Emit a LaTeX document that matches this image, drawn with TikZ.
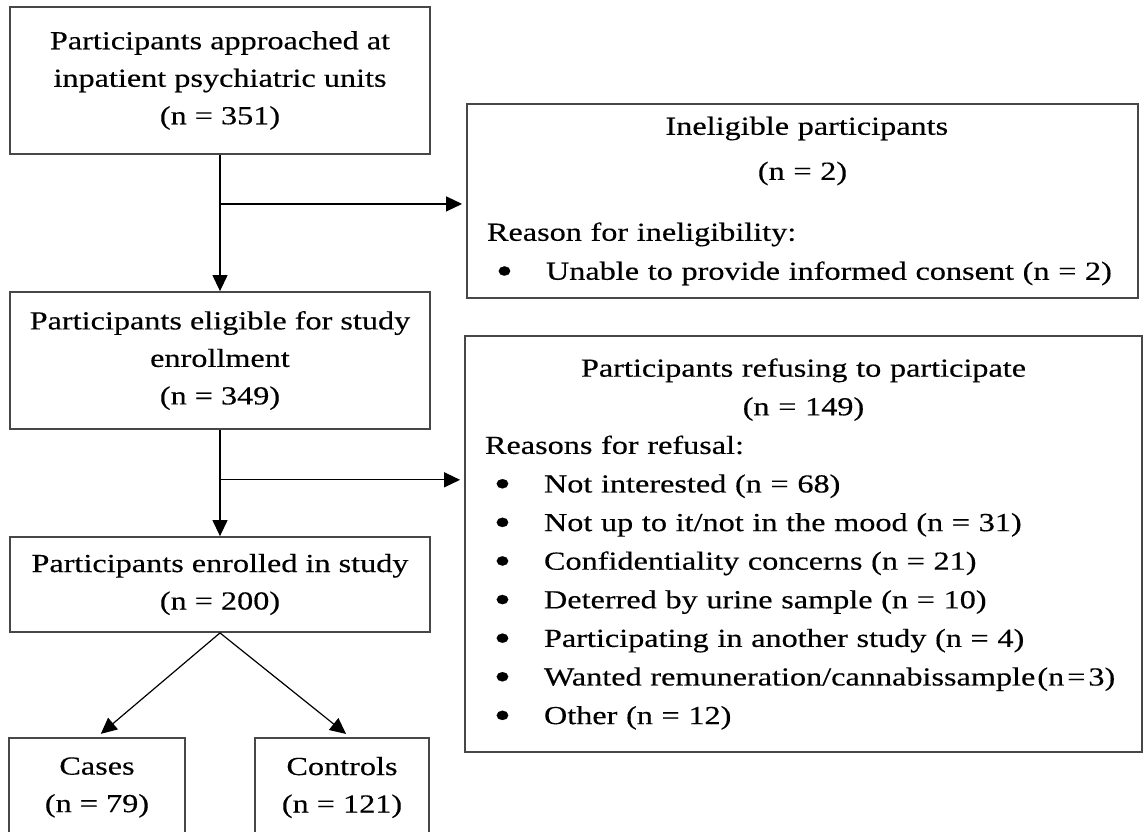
\documentclass[tikz,border=0pt]{standalone}
\usepackage{fontspec}
\setmainfont{Liberation Serif}[FakeStretch=1.24, FakeBold=0.35]
\usetikzlibrary{arrows.meta,calc}

\newcommand{\flowitem}[1]{\par\noindent\hspace*{4.5pt}\makebox[25pt][l]{\raisebox{-0.35ex}{\scalebox{1.5}{\textbullet}}}#1}

\begin{document}
\begin{tikzpicture}[x=0.5pt, y=-0.5pt,
    box/.style={draw=black!72, line width=0.9pt, align=center, inner sep=0pt,
        font=\fontsize{13pt}{18.75pt}\selectfont},
    listbox/.style={box, align=left, inner xsep=10pt},
    arr/.style={-{Triangle[length=8pt,width=7.5pt]}, line width=0.6pt}]
    \useasboundingbox (0,0) rectangle (1144,831);

    % Main flow
    \node[box, minimum width=210pt, minimum height=73.5pt] (approached) at (220,80.5)
        {Participants approached at\\inpatient psychiatric units\\(n = 351)};
    \node[box, minimum width=210pt, minimum height=68.5pt] (eligible) at (220,360.5)
        {Participants eligible for study\\enrollment\\(n = 349)};
    \node[box, minimum width=210pt, minimum height=47.5pt] (enrolled) at (220,584.5)
        {Participants enrolled in study\\(n = 200)};

    % Groups
    \node[box, minimum width=88pt, minimum height=49.5pt] (cases) at (97,787.5)
        {Cases\\(n = 79)};
    \node[box, minimum width=87pt, minimum height=49.5pt] (controls) at (342,787.5)
        {Controls\\(n = 121)};

    % Exclusions
    \node[listbox, minimum width=335.5pt, minimum height=97pt, text width=315.5pt,
        font=\fontsize{13pt}{19.5pt}\selectfont] (ineligible) at (802.5,201) {%
        \vspace*{3pt}
        {\centering Ineligible participants\\(n = 2)\par}
        \vspace{11pt}
        \noindent Reason for ineligibility:
        \flowitem{Unable to provide informed consent (n = 2)}};
    \node[listbox, minimum width=338.5pt, minimum height=208pt, text width=318.5pt,
        font=\fontsize{13pt}{19.3pt}\selectfont] (refusing) at (803.5,544) {%
        {\centering Participants refusing to participate\\(n = 149)\par}
        \noindent Reasons for refusal:
        \flowitem{Not interested (n = 68)}
        \flowitem{Not up to it/not in the mood (n = 31)}
        \flowitem{Confidentiality concerns (n = 21)}
        \flowitem{Deterred by urine sample (n = 10)}
        \flowitem{Participating in another study (n = 4)}
        \flowitem{\mbox{Wanted remuneration/cannabissample\hspace{1pt}(n\hspace{1.5pt}=\hspace{1.5pt}3)}}
        \flowitem{Other (n = 12)}};

    % Arrows
    \coordinate (split1) at ($(approached.south)!0.36!(eligible.north)$);
    \coordinate (split2) at ($(eligible.south)!0.47!(enrolled.north)$);
    \draw[arr] (approached.south) -- (eligible.north);
    \draw[arr, shorten >=2pt] (split1) -- (split1 -| ineligible.west);
    \draw[arr] (eligible.south) -- (enrolled.north);
    \draw[arr, shorten >=2pt] (split2) -- (split2 -| refusing.west);
    \draw[arr, shorten >=2.5pt] (enrolled.south) -- (cases.north);
    \draw[arr, shorten >=2.5pt] (enrolled.south) -- ($(controls.north)+(8,0)$);
\end{tikzpicture}
\end{document}
